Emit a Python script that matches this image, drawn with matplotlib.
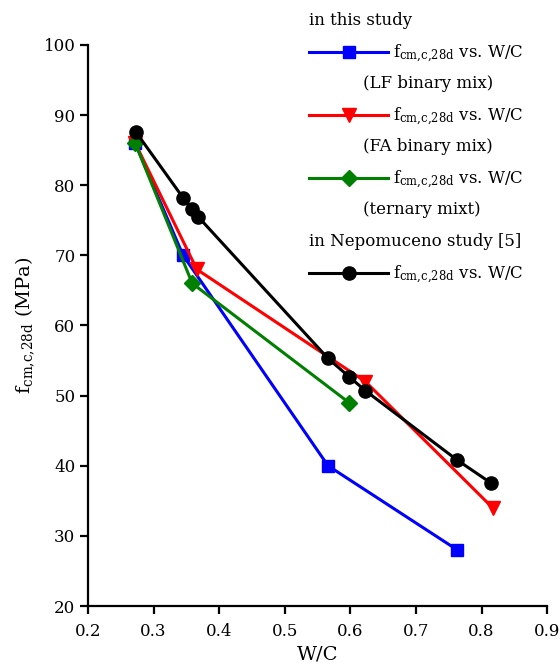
import matplotlib
matplotlib.use("Agg")
import matplotlib.pyplot as plt
from matplotlib.lines import Line2D
from matplotlib.text import Text
from matplotlib.legend_handler import HandlerBase

plt.rcParams['font.family'] = ['DejaVu Serif']
plt.rcParams['mathtext.fontset'] = 'dejavuserif'

# Data
lf_wc = [0.272, 0.345, 0.566, 0.763]
lf_f = [86.0, 70.0, 40.0, 28.0]
fa_wc = [0.272, 0.366, 0.623, 0.817]
fa_f = [86.0, 68.0, 52.0, 34.0]
tern_wc = [0.272, 0.359, 0.598]
tern_f = [86.0, 66.0, 49.0]
nep_wc = [0.273, 0.345, 0.359, 0.368, 0.566, 0.598, 0.623, 0.763, 0.815]
nep_f = [87.6, 78.2, 76.6, 75.5, 55.3, 52.7, 50.7, 40.8, 37.5]

xticks = [0.2, 0.3, 0.4, 0.5, 0.6, 0.7, 0.8, 0.9]
yticks = [20, 30, 40, 50, 60, 70, 80, 90, 100]

FS = 12

fig = plt.figure(figsize=(5.6, 6.7), dpi=100)
ax = fig.add_axes([0.157, 0.0955, 0.82, 0.8375])

lw = 2.2
l_lf, = ax.plot(lf_wc, lf_f, color='#0000ff', lw=lw, marker='s', ms=8)
l_fa, = ax.plot(fa_wc, fa_f, color='#ff0000', lw=lw, marker='v', ms=10)
l_te, = ax.plot(tern_wc, tern_f, color='#008000', lw=lw, marker='D', ms=8)
l_ne, = ax.plot(nep_wc, nep_f, color='black', lw=lw, marker='o', ms=9.5)

ax.set_xlim(0.2, 0.9)
ax.set_ylim(20, 100)
ax.set_xticks(xticks)
ax.set_xticklabels([f"{v:.1f}" for v in xticks], fontsize=FS)
ax.set_yticks(yticks)
ax.set_yticklabels([str(v) for v in yticks], fontsize=FS)
for s in ['top', 'right']:
    ax.spines[s].set_visible(False)
for s in ['left', 'bottom']:
    ax.spines[s].set_linewidth(1.6)
ax.tick_params(direction='out', length=6, width=1.6)
ax.tick_params(axis='x', pad=6)
ax.tick_params(axis='y', pad=3)

sub = r'$\mathrm{f}_{\mathrm{cm{,}c{,}28d}}$'
ax.set_xlabel('W/C', fontsize=14, labelpad=4)
ax.set_ylabel(sub + ' (MPa)', fontsize=14, labelpad=5)


class TextHandler(HandlerBase):
    def __init__(self, text, xoff):
        super().__init__()
        self.text = text
        self.xoff = xoff

    def create_artists(self, legend, orig_handle, xdescent, ydescent,
                       width, height, fontsize, trans):
        t = Text(x=-xdescent + self.xoff * width, y=-ydescent + height / 2,
                 text=self.text, ha='left', va='center', fontsize=fontsize)
        t.set_transform(trans)
        return [t]


lab = sub + ' vs. W/C'
texts = [("in this study", 0.0), ("(LF binary mix)", 0.68),
         ("(FA binary mix)", 0.68), ("(ternary mixt)", 0.68),
         ("in Nepomuceno study [5]", 0.0)]
dummies = [Line2D([], [], linestyle='none') for _ in texts]
hmap = {d: TextHandler(t, o) for d, (t, o) in zip(dummies, texts)}

handles = [dummies[0], l_lf, dummies[1], l_fa, dummies[2], l_te, dummies[3],
           dummies[4], l_ne]
labels = [lab] * 9
hidden = [0, 2, 4, 6, 7]

leg = fig.legend(handles, labels, handler_map=hmap, loc='upper left',
                 bbox_to_anchor=(309 / 560, 1 - 11 / 670), frameon=False,
                 fontsize=FS, handlelength=79 / (FS * 100 / 72),
                 handletextpad=0.3, labelspacing=0.57, borderpad=0,
                 borderaxespad=0)
for i, t in enumerate(leg.get_texts()):
    if i in hidden:
        t.set_alpha(0)

fig.savefig('out.png', dpi=100)
